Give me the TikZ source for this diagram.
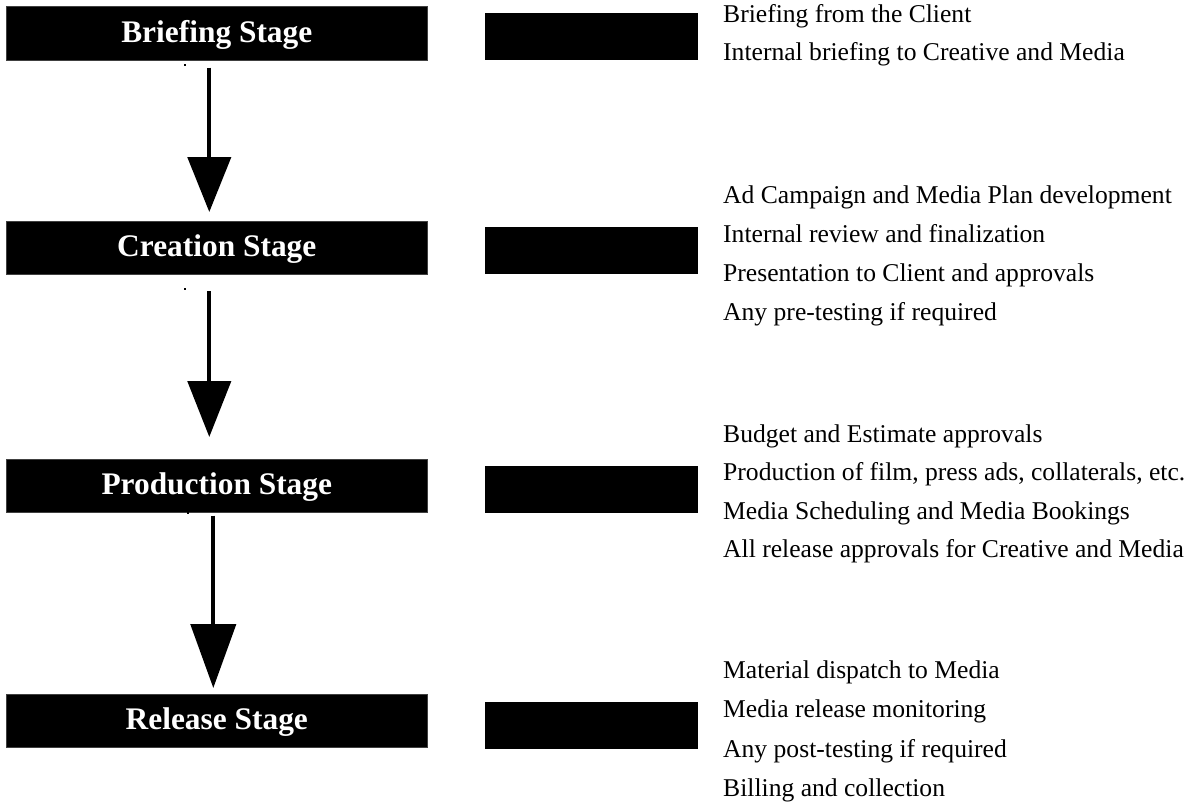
\documentclass[tikz,border=0pt]{standalone}
\usepackage{fontspec}
\setmainfont{Liberation Serif}
\usetikzlibrary{arrows.meta}

\tikzset{
  stagebox/.style={fill=black, draw=black!75, line width=0.6pt, inner sep=0pt,
    anchor=north west, minimum width=421pt, text=white,
    font=\fontsize{31.4}{36}\selectfont\bfseries, text height=21pt, text depth=3pt},
  tagbox/.style={fill=black, inner sep=0pt, anchor=north west,
    minimum width=213pt, minimum height=47pt},
  desc/.style={anchor=base west, inner sep=0pt,
    font=\fontsize{25.6}{30}\selectfont},
  flow/.style={line width=4.3pt},
  speck/.style={fill=black, inner sep=0pt, minimum size=1.6pt}
}

\begin{document}
\begin{tikzpicture}[x=1pt, y=-1pt]
  \useasboundingbox (0,0) rectangle (1186,804);

  % stage boxes
  \node[stagebox, minimum height=54pt] (brief) at (6,6)   {Briefing Stage};
  \node[stagebox, minimum height=53pt] (creat) at (6,220.5) {Creation Stage};
  \node[stagebox, minimum height=53pt] (prod)  at (6,459) {Production Stage};
  \node[stagebox, minimum height=53pt] (rel)   at (6,694) {Release Stage};

  % black tags beside each stage
  \node[tagbox] (tb) at (485,13)  {};
  \node[tagbox] (tc) at (485,227) {};
  \node[tagbox] (tp) at (485,466) {};
  \node[tagbox] (tr) at (485,702) {};

  % arrows between stages
  \draw[flow, -{Triangle[length=55pt, width=43pt]}]
    ([xshift=-7.5pt, yshift=-7pt]brief.south) -- ([xshift=-7.5pt, yshift=8.5pt]creat.north);
  \draw[flow, -{Triangle[length=56pt, width=43pt]}]
    ([xshift=-7.5pt, yshift=-17pt]creat.south) -- ([xshift=-7.5pt, yshift=22pt]prod.north);
  \draw[flow, -{Triangle[length=64pt, width=45pt]}]
    ([xshift=-3.5pt, yshift=-3pt]prod.south) -- ([xshift=-3.5pt, yshift=6pt]rel.north);

  % small specks under the boxes
  \node[speck] (s1) at (185,65) {};
  \node[speck] (s2) at (185,289) {};
  \node[speck] (s3) at (188,513) {};

  % activity lists
  \node[desc] (b1) at (723,22)  {Briefing from the Client};
  \node[desc] (b2) at (723,60)  {Internal briefing to Creative and Media};

  \node[desc] (c1) at (723,203.5) {Ad Campaign and Media Plan development};
  \node[desc] (c2) at (723,242.5) {Internal review and finalization};
  \node[desc] (c3) at (723,281.5) {Presentation to Client and approvals};
  \node[desc] (c4) at (723,320) {Any pre-testing if required};

  \node[desc] (p1) at (723,442) {Budget and Estimate approvals};
  \node[desc] (p2) at (723,480.5) {Production of film, press ads, collaterals, etc.};
  \node[desc] (p3) at (723,519) {Media Scheduling and Media Bookings};
  \node[desc] (p4) at (723,557) {All release approvals for Creative and Media};

  \node[desc] (r1) at (723,678) {Material dispatch to Media};
  \node[desc] (r2) at (723,717) {Media release monitoring};
  \node[desc] (r3) at (723,757) {Any post-testing if required};
  \node[desc] (r4) at (723,796) {Billing and collection};
\end{tikzpicture}
\end{document}
